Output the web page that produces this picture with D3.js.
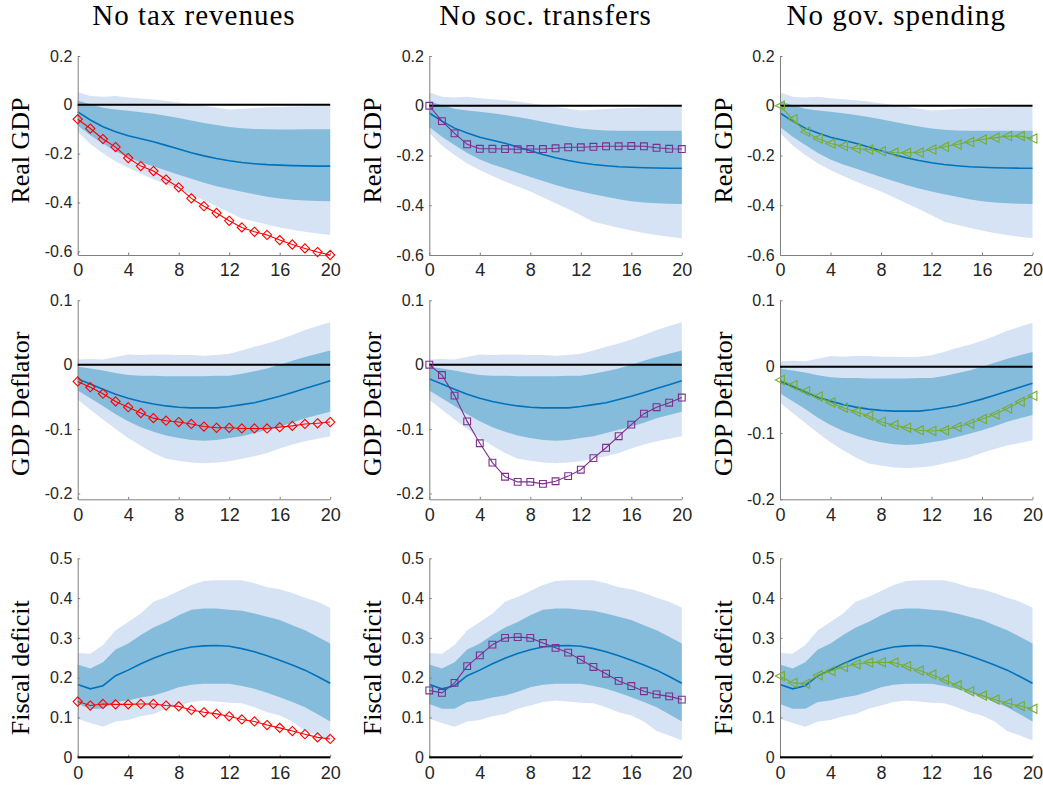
<!DOCTYPE html>
<html>
<head>
<meta charset="utf-8">
<script src="https://cdn.jsdelivr.net/npm/d3@7"></script>
<style>
  body { margin: 0; background: #ffffff; }
  svg { display: block; }
</style>
</head>
<body>
<svg id="chart" width="1043" height="785"></svg>
<script>
// ---- Data -----------------------------------------------------------------
const horizons = [0, 1, 2, 3, 4, 5, 6, 7, 8, 9, 10, 11, 12, 13, 14, 15, 16, 17, 18, 19, 20];
const xTicks = [0, 4, 8, 12, 16, 20];

const scenarios = ["No tax revenues", "No soc. transfers", "No gov. spending"];
const variables = ["Real GDP", "GDP Deflator", "Fiscal deficit"];

// Baseline responses: median and 68% / 90% credible bands
const gdpMedian  = [-0.029, -0.062, -0.090, -0.110, -0.127, -0.139, -0.151, -0.166, -0.181, -0.196, -0.209, -0.220, -0.229, -0.236, -0.241, -0.245, -0.247, -0.249, -0.250, -0.251, -0.251];
const gdpInnerHi = [0.018, 0.002, -0.012, -0.019, -0.024, -0.030, -0.037, -0.045, -0.054, -0.064, -0.074, -0.083, -0.091, -0.096, -0.099, -0.100, -0.101, -0.101, -0.100, -0.100, -0.100];
const gdpInnerLo = [-0.085, -0.125, -0.158, -0.190, -0.216, -0.236, -0.252, -0.269, -0.286, -0.303, -0.319, -0.333, -0.345, -0.356, -0.366, -0.376, -0.384, -0.389, -0.392, -0.394, -0.395];
const gdpOuterHi = [0.053, 0.036, 0.033, 0.036, 0.030, 0.026, 0.022, 0.017, 0.010, 0.003, -0.004, -0.012, -0.019, -0.016, -0.013, -0.010, -0.009, -0.007, -0.006, -0.005, -0.004];
const gdpOuterLo = [-0.110, -0.160, -0.198, -0.232, -0.258, -0.282, -0.305, -0.325, -0.345, -0.368, -0.392, -0.415, -0.440, -0.466, -0.478, -0.490, -0.502, -0.512, -0.520, -0.527, -0.533];

const deflMedian  = [-0.022, -0.030, -0.038, -0.046, -0.052, -0.057, -0.061, -0.064, -0.066, -0.067, -0.067, -0.067, -0.065, -0.062, -0.059, -0.054, -0.049, -0.043, -0.037, -0.031, -0.025];
const deflInnerHi = [-0.003, -0.006, -0.009, -0.013, -0.016, -0.017, -0.017, -0.018, -0.018, -0.018, -0.018, -0.017, -0.017, -0.014, -0.010, -0.006, 0.000, 0.006, 0.012, 0.017, 0.022];
const deflInnerLo = [-0.040, -0.052, -0.064, -0.077, -0.088, -0.097, -0.104, -0.110, -0.114, -0.117, -0.118, -0.117, -0.114, -0.111, -0.106, -0.101, -0.096, -0.090, -0.083, -0.078, -0.073];
const deflOuterHi = [0.008, 0.009, 0.008, 0.012, 0.016, 0.015, 0.016, 0.016, 0.015, 0.015, 0.014, 0.015, 0.017, 0.022, 0.028, 0.033, 0.039, 0.046, 0.054, 0.060, 0.066];
const deflOuterLo = [-0.054, -0.070, -0.085, -0.100, -0.114, -0.126, -0.137, -0.146, -0.149, -0.152, -0.153, -0.152, -0.150, -0.146, -0.142, -0.137, -0.130, -0.124, -0.119, -0.115, -0.111];

const defMedian  = [0.183, 0.172, 0.180, 0.205, 0.219, 0.235, 0.249, 0.261, 0.270, 0.277, 0.280, 0.281, 0.279, 0.273, 0.265, 0.255, 0.244, 0.232, 0.219, 0.203, 0.186];
const defInnerHi = [0.233, 0.223, 0.239, 0.271, 0.286, 0.307, 0.326, 0.340, 0.357, 0.371, 0.374, 0.374, 0.371, 0.368, 0.361, 0.353, 0.345, 0.332, 0.319, 0.303, 0.286];
const defInnerLo = [0.134, 0.122, 0.122, 0.139, 0.143, 0.150, 0.155, 0.165, 0.176, 0.182, 0.185, 0.185, 0.185, 0.179, 0.172, 0.162, 0.151, 0.139, 0.126, 0.108, 0.090];
const defOuterHi = [0.262, 0.260, 0.282, 0.319, 0.340, 0.361, 0.391, 0.403, 0.418, 0.433, 0.443, 0.445, 0.445, 0.445, 0.437, 0.427, 0.422, 0.413, 0.401, 0.391, 0.376];
const defOuterLo = [0.097, 0.086, 0.077, 0.090, 0.094, 0.103, 0.109, 0.122, 0.130, 0.139, 0.143, 0.140, 0.137, 0.136, 0.126, 0.113, 0.105, 0.090, 0.066, 0.055, 0.042];

// Counterfactual responses, one per scenario
const gdpNoTax       = [-0.059, -0.097, -0.140, -0.173, -0.218, -0.251, -0.271, -0.306, -0.338, -0.383, -0.415, -0.443, -0.475, -0.502, -0.520, -0.533, -0.554, -0.572, -0.588, -0.603, -0.615];
const gdpNoTransfers = [0.000, -0.062, -0.111, -0.155, -0.173, -0.173, -0.174, -0.175, -0.174, -0.174, -0.171, -0.167, -0.167, -0.165, -0.163, -0.163, -0.162, -0.163, -0.169, -0.173, -0.174];
const gdpNoSpending  = [0.000, -0.054, -0.105, -0.132, -0.152, -0.162, -0.172, -0.176, -0.183, -0.188, -0.189, -0.188, -0.176, -0.165, -0.156, -0.146, -0.136, -0.129, -0.122, -0.122, -0.132];

const deflNoTax       = [-0.026, -0.035, -0.045, -0.057, -0.066, -0.075, -0.083, -0.087, -0.089, -0.092, -0.096, -0.098, -0.098, -0.099, -0.099, -0.099, -0.097, -0.095, -0.092, -0.091, -0.089];
const deflNoTransfers = [0.000, -0.016, -0.048, -0.088, -0.122, -0.152, -0.174, -0.182, -0.182, -0.185, -0.181, -0.173, -0.163, -0.145, -0.129, -0.111, -0.093, -0.076, -0.066, -0.059, -0.051];
const deflNoSpending  = [-0.020, -0.028, -0.037, -0.045, -0.054, -0.062, -0.068, -0.074, -0.083, -0.088, -0.092, -0.096, -0.097, -0.096, -0.091, -0.086, -0.079, -0.072, -0.063, -0.053, -0.044];

const defNoTax       = [0.140, 0.130, 0.134, 0.133, 0.133, 0.134, 0.134, 0.130, 0.128, 0.119, 0.113, 0.109, 0.103, 0.095, 0.090, 0.081, 0.074, 0.066, 0.058, 0.050, 0.046];
const defNoTransfers = [0.168, 0.162, 0.187, 0.229, 0.256, 0.283, 0.300, 0.302, 0.300, 0.287, 0.275, 0.263, 0.245, 0.227, 0.210, 0.192, 0.179, 0.166, 0.158, 0.153, 0.145];
const defNoSpending  = [0.204, 0.187, 0.185, 0.206, 0.217, 0.227, 0.234, 0.238, 0.239, 0.238, 0.229, 0.218, 0.208, 0.195, 0.181, 0.166, 0.155, 0.145, 0.136, 0.129, 0.122];

// Axis limits and ticks, per row (and per column where they differ)
const gdpLimits  = [[-0.615, 0.2], [-0.6, 0.2], [-0.6, 0.2]];
const deflLimits = [[-0.209, 0.1], [-0.209, 0.1], [-0.2, 0.1]];
const defLimits  = [[0, 0.5], [0, 0.5], [0, 0.5]];
const gdpTicks  = [-0.6, -0.4, -0.2, 0, 0.2];
const deflTicks = [-0.2, -0.1, 0, 0.1];
const defTicks  = [0, 0.1, 0.2, 0.3, 0.4, 0.5];

const rows = [
  { median: gdpMedian,  innerLo: gdpInnerLo,  innerHi: gdpInnerHi,  outerLo: gdpOuterLo,  outerHi: gdpOuterHi,
    scen: [gdpNoTax, gdpNoTransfers, gdpNoSpending],  limits: gdpLimits,  ticks: gdpTicks },
  { median: deflMedian, innerLo: deflInnerLo, innerHi: deflInnerHi, outerLo: deflOuterLo, outerHi: deflOuterHi,
    scen: [deflNoTax, deflNoTransfers, deflNoSpending], limits: deflLimits, ticks: deflTicks },
  { median: defMedian,  innerLo: defInnerLo,  innerHi: defInnerHi,  outerLo: defOuterLo,  outerHi: defOuterHi,
    scen: [defNoTax, defNoTransfers, defNoSpending],  limits: defLimits,  ticks: defTicks }
];

// ---- Layout and style -------------------------------------------------------
const colLeft = [77.7, 429.3, 780];
const rowTop = [56, 300.3, 558.3];
const plotW = 252.5;
const plotH = 199;
const ylabelShift = [-5, 4, 10];

const outerBand = "#d6e3f4";
const innerBand = "#86bcdb";
const medianColor = "#0072bd";
const axisColor = "#808080";
const tickText = "#262626";
const serif = "'Liberation Serif', 'Times New Roman', serif";
const sans = "'Liberation Sans', Arial, Helvetica, sans-serif";

const scenStyle = [
  { color: "#ff0000", shape: "diamond" },
  { color: "#7e2f8e", shape: "square" },
  { color: "#77ac30", shape: "triangleLeft" }
];

function markerPath(shape) {
  if (shape === "diamond") return "M0,-4.6L4.6,0L0,4.6L-4.6,0Z";
  if (shape === "square") return "M-3.4,-3.4H3.4V3.4H-3.4Z";
  return "M-4.6,0L4.4,-4.6L4.4,4.6Z";
}

// ---- Drawing ------------------------------------------------------------------
const svg = d3.select("#chart");
svg.append("rect").attr("width", 1043).attr("height", 785).attr("fill", "#ffffff");

// Column titles
scenarios.forEach((t, c) => {
  svg.append("text")
    .attr("x", colLeft[c] + plotW / 2 - 10)
    .attr("y", 25)
    .attr("text-anchor", "middle")
    .attr("font-family", serif)
    .attr("font-size", 29)
    .attr("letter-spacing", 1)
    .attr("fill", "#000")
    .text(t);
});

rows.forEach((row, r) => {
  scenarios.forEach((_, c) => {
    const g = svg.append("g").attr("transform", `translate(${colLeft[c]},${rowTop[r]})`);
    const x = d3.scaleLinear().domain([0, 20]).range([0, plotW]);
    const y = d3.scaleLinear().domain(row.limits[c]).range([plotH, 0]);

    const band = (lo, hi) => d3.area()
      .x((d, i) => x(horizons[i]))
      .y0((d, i) => y(lo[i]))
      .y1((d, i) => y(hi[i]));

    g.append("path").datum(horizons).attr("d", band(row.outerLo, row.outerHi)).attr("fill", outerBand);
    g.append("path").datum(horizons).attr("d", band(row.innerLo, row.innerHi)).attr("fill", innerBand);

    const line = d3.line().x((d, i) => x(horizons[i])).y(d => y(d));
    g.append("path").datum(row.median).attr("d", line)
      .attr("fill", "none").attr("stroke", medianColor).attr("stroke-width", 1.6);

    // Axes
    const yAxis = d3.axisLeft(y).tickValues(row.ticks).tickSize(-2.5).tickSizeOuter(0).tickPadding(5.4)
      .tickFormat(d => d === 0 ? "0" : String(d));
    const ya = g.append("g").call(yAxis);
    ya.selectAll("text").attr("font-family", sans).attr("font-size", 16).attr("fill", tickText);

    const xAxis = d3.axisBottom(x).tickValues(xTicks).tickSize(-2.5).tickSizeOuter(0).tickPadding(8.7);
    const xa = g.append("g").attr("transform", `translate(0,${plotH})`).call(xAxis);
    xa.selectAll("text").attr("font-family", sans).attr("font-size", 18).attr("fill", tickText);

    [ya, xa].forEach(a => {
      a.select(".domain").attr("stroke", axisColor).attr("stroke-width", 1);
      a.selectAll(".tick line").attr("stroke", axisColor);
    });

    // Zero reference line
    g.append("line")
      .attr("x1", x(0)).attr("x2", x(20))
      .attr("y1", y(0)).attr("y2", y(0))
      .attr("stroke", "#000").attr("stroke-width", 2);

    // Counterfactual path with markers
    const st = scenStyle[c];
    const vals = row.scen[c];
    g.append("path").datum(vals).attr("d", line)
      .attr("fill", "none").attr("stroke", st.color).attr("stroke-width", 1.1);
    g.selectAll(".mk").data(vals).enter().append("path")
      .attr("transform", (d, i) => `translate(${x(horizons[i])},${y(d)})`)
      .attr("d", markerPath(st.shape))
      .attr("fill", "none").attr("stroke", st.color).attr("stroke-width", 1.1);

    // Row label
    const cy = plotH / 2 + ylabelShift[r];
    g.append("text")
      .attr("transform", `translate(-48.5,${cy}) rotate(-90)`)
      .attr("text-anchor", "middle")
      .attr("font-family", serif)
      .attr("font-size", 26)
      .attr("fill", "#000")
      .text(variables[r]);
  });
});
</script>
</body>
</html>
